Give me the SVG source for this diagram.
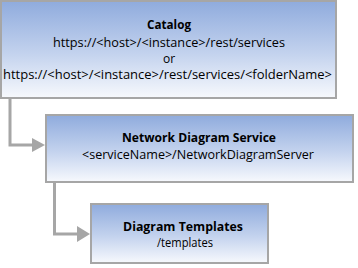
<svg xmlns="http://www.w3.org/2000/svg" width="358" height="268" viewBox="0 0 358 268">
<defs>
<linearGradient id="g" x1="0" y1="0" x2="0" y2="1">
<stop offset="0" stop-color="#8fabdd"/>
<stop offset="0.55" stop-color="#c4d3ee"/>
<stop offset="1" stop-color="#f7f9fd"/>
</linearGradient>
<style>
.box{fill:url(#g);stroke:#a6a6a6;stroke-width:2}
.t{font-family:"Open Sans","Liberation Sans",Arial,sans-serif;font-size:12px;text-anchor:middle;fill:#000}
.b{font-weight:bold}
.ln{fill:none;stroke:#a6a6a6;stroke-width:3}
.ah{fill:#a6a6a6}
</style>
</defs>
<rect width="358" height="268" fill="#fff"/>
<g id="connectors">
<path class="ln" d="M10,98 V145 H33"/>
<polygon class="ah" points="32,138 45,145 32,152"/>
<path class="ln" d="M54.5,182 V234 H78"/>
<polygon class="ah" points="77,226 90,234 77,242"/>
</g>
<g id="catalog">
<rect class="box" x="1" y="1" width="335" height="97"/>
<text class="t b" x="169" y="29" textLength="44" lengthAdjust="spacingAndGlyphs">Catalog</text>
<text class="t" x="169" y="47" textLength="232" lengthAdjust="spacingAndGlyphs">https://&lt;host&gt;/&lt;instance&gt;/rest/services</text>
<text class="t" x="169" y="63">or</text>
<text class="t" x="167.5" y="79" textLength="329" lengthAdjust="spacingAndGlyphs">https://&lt;host&gt;/&lt;instance&gt;/rest/services/&lt;folderName&gt;</text>
</g>
<g id="network">
<rect class="box" x="46" y="115" width="307" height="67"/>
<text class="t b" x="199" y="142" textLength="154" lengthAdjust="spacingAndGlyphs">Network Diagram Service</text>
<text class="t" x="198" y="159" textLength="232" lengthAdjust="spacingAndGlyphs">&lt;serviceName&gt;/NetworkDiagramServer</text>
</g>
<g id="templates">
<rect class="box" x="91" y="204" width="177" height="59"/>
<text class="t b" x="183" y="231" textLength="120" lengthAdjust="spacingAndGlyphs">Diagram Templates</text>
<text class="t" x="185" y="247" textLength="56" lengthAdjust="spacingAndGlyphs">/templates</text>
</g>
</svg>
